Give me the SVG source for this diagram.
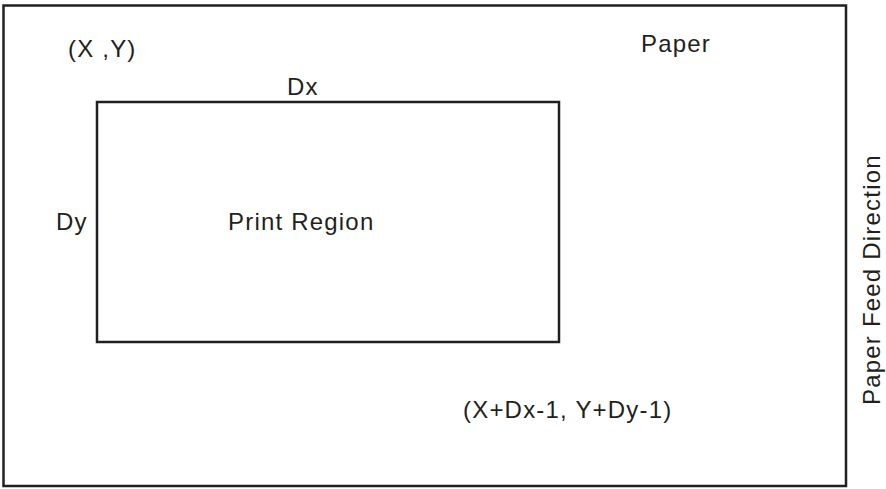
<svg xmlns="http://www.w3.org/2000/svg" width="886" height="489" viewBox="0 0 886 489">
<style>
.box{fill:none;stroke:#231f20;stroke-width:2.5}
.t{font-family:"Liberation Sans",Arial,sans-serif;font-size:24px;fill:#231f20;letter-spacing:1.2px}
</style>
<rect width="886" height="489" fill="#ffffff"/>
<g id="paper">
<rect class="box" x="3.5" y="5.5" width="842.5" height="480.5"/>
<text class="t" x="641" y="52">Paper</text>
<text class="t" x="68" y="57">(X ,Y)</text>
<text class="t" x="463" y="418">(X+Dx-1, Y+Dy-1)</text>
</g>
<g id="print-region">
<rect class="box" x="97" y="102" width="462" height="240"/>
<text class="t" x="228" y="230">Print Region</text>
<text class="t" x="287" y="95">Dx</text>
<text class="t" x="56" y="230">Dy</text>
</g>
<g id="feed-direction">
<text class="t" transform="translate(880,405) rotate(-90)">Paper Feed Direction</text>
</g>
<g id="connectors"></g>
</svg>
